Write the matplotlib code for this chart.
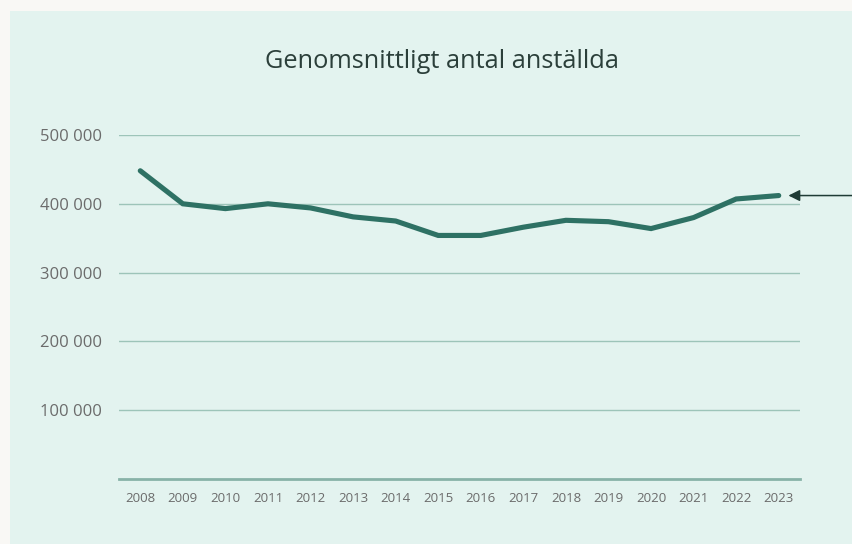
import matplotlib
matplotlib.use("Agg")
import matplotlib.pyplot as plt
from matplotlib.patches import Rectangle
from matplotlib.ticker import FuncFormatter

# average number of employees per year
years = list(range(2008, 2024))
employees = [448000, 400000, 393000, 400000, 394000, 381000, 375000, 354000,
             354000, 366000, 376000, 374000, 364000, 380000, 407000, 412000]
yticks = [100000, 200000, 300000, 400000, 500000]
title = "Genomsnittligt antal anställda"

plt.rcParams['font.family'] = ['Open Sans', 'DejaVu Sans']

W, H = 852, 544
fig = plt.figure(figsize=(W / 100, H / 100), dpi=100)
fig.patch.set_facecolor('#f9f8f5')
fig.patches.append(Rectangle((10 / W, 0), 1, 1 - 11 / H, transform=fig.transFigure,
                             facecolor='#e3f3ef', edgecolor='none', zorder=-10))

ax = fig.add_axes([119 / W, 1 - 479 / H, (800 - 119) / W, (479 - 135) / H])
ax.set_facecolor('none')
ax.set_zorder(1)

ax.plot(years, employees, color='#2e7164', lw=3.7, solid_capstyle='round',
        solid_joinstyle='miter', zorder=3, clip_on=False)

ax.set_xlim(2007.5, 2023.5)
ax.set_ylim(0, 500000)
ax.set_xticks(years)
ax.set_yticks(yticks)
ax.yaxis.set_major_formatter(FuncFormatter(lambda v, p: "{:,}".format(int(v)).replace(",", " ")))
ax.tick_params(axis='y', length=0, pad=12, labelsize=12, labelcolor='#6b6b6b')
ax.tick_params(axis='x', length=0, pad=9, labelsize=9.5, labelcolor='#6b6b6b')
ax.grid(axis='y', color='#9dc4b9', lw=1)
ax.set_axisbelow(True)
for s in ['top', 'right', 'left']:
    ax.spines[s].set_visible(False)
ax.spines['bottom'].set_color('#88b2a8')
ax.spines['bottom'].set_linewidth(2)

# arrow pointing at the last value
ax.annotate('', xy=(years[-1], employees[-1]), xytext=(62, 0), textcoords='offset points',
            arrowprops=dict(arrowstyle='-|>', color='#1f3b35', lw=1.1,
                            mutation_scale=17, shrinkA=0, shrinkB=7),
            annotation_clip=False)

fig.text(442 / W, 1 - 62 / H, title, ha='center', va='center', fontsize=18.3, color='#2b3f3a')

fig.savefig('out.png', dpi=100, facecolor=fig.get_facecolor())
